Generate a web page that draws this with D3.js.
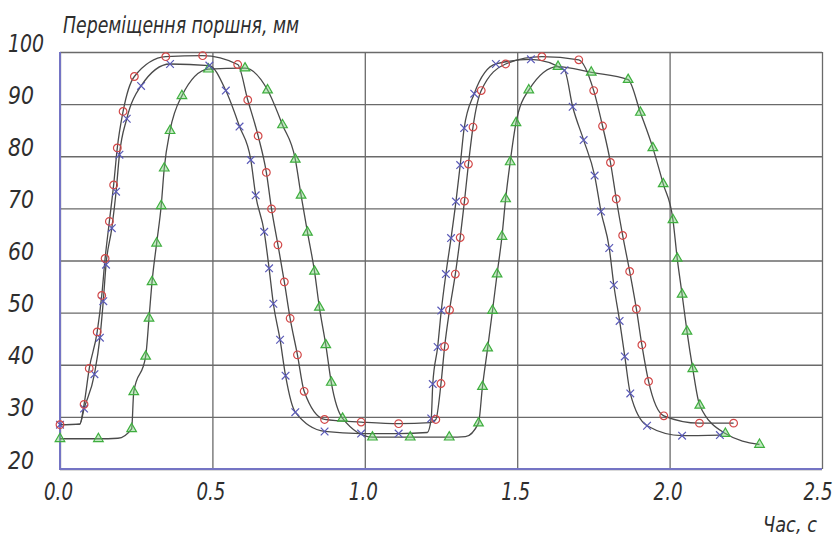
<!DOCTYPE html>
<html><head><meta charset="utf-8">
<script src="https://cdn.jsdelivr.net/npm/d3@7"></script>
<style>
body{margin:0;background:#fff;}
svg text{font-family:"DejaVu Sans Condensed","DejaVu Sans",sans-serif;font-stretch:condensed;font-style:italic;fill:#2e2e2e;}
</style></head>
<body><svg id="c" width="837" height="536"></svg>
<script>
const xTicks = [0, 0.5, 1.0, 1.5, 2.0, 2.5];
const xTickLabels = ["0.0", "0.5", "1.0", "1.5", "2.0", "2.5"];
const yTicks = [20, 30, 40, 50, 60, 70, 80, 90, 100];
const yTitle = "Переміщення поршня, мм";
const xTitle = "Час, с";

// [time s, displacement mm, marker shown (1) or line vertex only (0)]
const redSeries = [[0,28.5,1],[0.065,28.6,0],[0.079,32.4,1],[0.096,39.3,1],[0.122,46.3,1],[0.137,53.3,1],[0.148,60.4,1],[0.162,67.5,1],[0.176,74.5,1],[0.188,81.6,1],[0.207,88.6,1],[0.244,95.3,1],[0.347,99.1,1],[0.468,99.3,1],[0.583,97.6,1],[0.616,90.8,1],[0.65,83.9,1],[0.677,76.9,1],[0.694,69.9,1],[0.715,63.0,1],[0.736,55.9,1],[0.755,48.9,1],[0.779,41.9,1],[0.801,34.9,1],[0.868,29.5,1],[0.988,29.0,1],[1.111,28.7,1],[1.215,28.9,0],[1.233,29.5,1],[1.25,36.4,1],[1.262,43.5,1],[1.278,50.5,1],[1.297,57.4,1],[1.313,64.4,1],[1.327,71.4,1],[1.34,78.5,1],[1.355,85.6,1],[1.382,92.6,1],[1.462,97.7,1],[1.581,99.1,1],[1.702,98.5,1],[1.751,92.6,1],[1.78,85.8,1],[1.806,78.8,1],[1.825,71.8,1],[1.846,64.8,1],[1.869,57.9,1],[1.891,50.7,1],[1.909,43.8,1],[1.931,36.8,1],[1.981,30.2,1],[2.098,28.8,1],[2.21,28.8,1]];

const blueSeries = [[0,28.5,1],[0.065,28.6,0],[0.079,31.6,1],[0.113,38.2,1],[0.131,45.2,1],[0.142,52.2,1],[0.151,59.2,1],[0.17,66.2,1],[0.184,73.2,1],[0.195,80.3,1],[0.219,87.2,1],[0.266,93.5,1],[0.361,97.7,1],[0.49,97.4,1],[0.544,92.6,1],[0.589,85.7,1],[0.626,79.3,1],[0.642,72.5,1],[0.67,65.5,1],[0.686,58.5,1],[0.7,51.7,1],[0.722,44.8,1],[0.74,37.9,1],[0.772,30.9,1],[0.868,27.2,1],[0.988,26.8,1],[1.111,26.8,1],[1.205,27.0,0],[1.218,29.7,1],[1.223,36.3,1],[1.239,43.4,1],[1.251,50.4,1],[1.266,57.4,1],[1.283,64.3,1],[1.299,71.3,1],[1.313,78.3,1],[1.326,85.4,1],[1.359,92.0,1],[1.43,97.7,1],[1.545,98.6,1],[1.655,96.5,1],[1.682,89.5,1],[1.718,83.1,1],[1.754,76.3,1],[1.775,69.4,1],[1.802,62.4,1],[1.817,55.3,1],[1.836,48.4,1],[1.853,41.6,1],[1.871,34.5,1],[1.926,28.3,1],[2.041,26.4,1],[2.165,26.5,1]];

const greenSeries = [[0,25.8,1],[0.126,25.8,1],[0.19,25.9,0],[0.235,27.7,1],[0.242,34.8,1],[0.281,41.6,1],[0.292,48.9,1],[0.302,55.9,1],[0.317,63.3,1],[0.332,70.5,1],[0.342,77.7,1],[0.361,84.9,1],[0.4,91.6,1],[0.487,96.7,1],[0.607,96.9,1],[0.681,92.7,1],[0.73,86.0,1],[0.772,79.4,1],[0.791,72.5,1],[0.812,65.4,1],[0.835,57.9,1],[0.851,51.0,1],[0.872,43.8,1],[0.89,36.6,1],[0.927,29.7,1],[1.025,26.1,1],[1.149,26.1,1],[1.277,26.1,1],[1.33,26.2,0],[1.373,28.8,1],[1.386,35.8,1],[1.403,43.2,1],[1.419,50.4,1],[1.434,57.4,1],[1.45,64.6,1],[1.462,71.8,1],[1.477,78.9,1],[1.496,86.4,1],[1.538,92.7,1],[1.634,97.2,1],[1.743,96.1,1],[1.864,94.7,1],[1.904,88.4,1],[1.945,81.6,1],[1.979,74.7,1],[2.011,67.8,1],[2.025,60.4,1],[2.041,53.5,1],[2.057,46.4,1],[2.076,39.2,1],[2.099,32.2,1],[2.183,26.8,1],[2.295,24.7,1]];

const svg = d3.select("#c");
const L = 60, R = 822, T = 52, B = 469;
const x = d3.scaleLinear().domain([0, 2.5]).range([L, R]);
const y = d3.scaleLinear().domain([20, 100]).range([B, T]);

// grid via axes
const gx = svg.append("g").attr("transform", `translate(0,${B})`)
  .call(d3.axisBottom(x).tickValues(xTicks).tickSize(-(B - T)).tickPadding(0)
    .tickFormat((d, i) => xTickLabels[i]));
gx.select(".domain").remove();
gx.selectAll(".tick line").attr("stroke", "#6a6a6a").attr("stroke-width", 1.3);
gx.selectAll(".tick text").attr("y", 31).attr("dy", 0)
  .attr("text-anchor", (d, i) => i === xTicks.length - 1 ? "end" : "middle")
  .attr("x", (d, i) => i === xTicks.length - 1 ? 10 : -2)
  .style("font-size", "24px").attr("fill", "#2e2e2e")
  .attr("textLength", 29).attr("lengthAdjust", "spacingAndGlyphs");

const gy = svg.append("g").attr("transform", `translate(${L},0)`)
  .call(d3.axisLeft(y).tickValues(yTicks).tickSize(-(R - L)).tickFormat(d3.format("d")));
gy.select(".domain").remove();
gy.selectAll(".tick line").attr("stroke", "#6a6a6a").attr("stroke-width", 1.3);
gy.selectAll(".tick text").attr("x", 8 - L).attr("dy", -1).attr("text-anchor", "start")
  .style("font-size", "24px").attr("fill", "#2e2e2e")
  .attr("textLength", d => d >= 100 ? 36 : 26).attr("lengthAdjust", "spacingAndGlyphs");

// axis lines (blue-ish)
svg.append("line").attr("x1", L).attr("x2", L).attr("y1", T).attr("y2", B + 1)
  .attr("stroke", "#7474c4").attr("stroke-width", 2);
svg.append("line").attr("x1", L).attr("x2", R).attr("y1", B).attr("y2", B)
  .attr("stroke", "#7474c4").attr("stroke-width", 2);

// titles
svg.append("text").attr("x", 63).attr("y", 33).style("font-size", "23px")
  .attr("textLength", 236).attr("lengthAdjust", "spacingAndGlyphs").text(yTitle);
svg.append("text").attr("x", 763).attr("y", 532).style("font-size", "22px")
  .attr("textLength", 54).attr("lengthAdjust", "spacingAndGlyphs").text(xTitle);

const line = d3.line().x(d => x(d[0])).y(d => y(d[1])).curve(d3.curveMonotoneX);

const series = [
  {data: greenSeries, sym: d3.symbolTriangle, size: 40, stroke: "#3fae3f", fill: "rgba(120,210,120,0.45)"},
  {data: blueSeries, sym: d3.symbolX, size: 40, stroke: "#5a5ab8", fill: "none"},
  {data: redSeries, sym: d3.symbolCircle, size: 46, stroke: "#d24848", fill: "none"}
];

series.forEach(s => {
  svg.append("path").datum(s.data).attr("d", line)
    .attr("fill", "none").attr("stroke", "#4a4a4a").attr("stroke-width", 1.3);
});
series.forEach(s => {
  svg.append("g").selectAll("path").data(s.data.filter(d => d[2] === 1)).join("path")
    .attr("transform", d => `translate(${x(d[0])},${y(d[1])})`)
    .attr("d", d3.symbol().type(s.sym).size(s.size))
    .attr("fill", s.fill).attr("stroke", s.stroke).attr("stroke-width", 1.2);
});
</script></body></html>
